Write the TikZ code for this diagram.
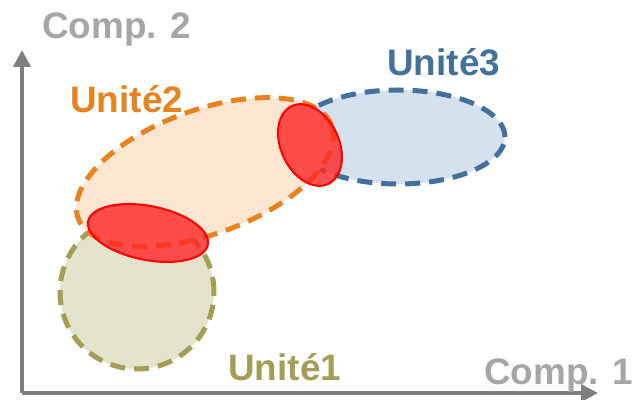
\documentclass[tikz,border=0pt]{standalone}
\usepackage{fontspec}
\setmainfont{Liberation Sans}
\usetikzlibrary{arrows.meta}

\definecolor{axisgray}{HTML}{7F7F7F}
\definecolor{labelgray}{HTML}{A6A6A6}
\definecolor{unitorange}{HTML}{E8821E}
\definecolor{unitblue}{HTML}{41719C}
\definecolor{unitolive}{HTML}{A39E56}
\definecolor{fillorange}{HTML}{FCE6D2}
\definecolor{fillblue}{HTML}{D6E1EE}
\definecolor{fillolive}{HTML}{E3E2CB}

\tikzset{
	axis/.style={draw=axisgray, line width=0.08cm, -{Triangle[length=0.34cm,width=0.34cm]}},
	unitline/.style={line width=0.1cm, dash pattern=on 0.3cm off 0.18cm},
	overlap/.style={draw=red, line width=0.04cm, fill=red!85!white, fill opacity=0.8},
	lbl/.style={inner sep=0pt, anchor=base west, font=\fontsize{21}{24}\selectfont\bfseries}
}

\begin{document}
\begin{tikzpicture}[x=0.02cm, y=0.02cm]
\useasboundingbox (0,0) rectangle (632,399);

% units
\draw[unitline, draw=unitolive, fill=fillolive] (137,107) ellipse [x radius=77, y radius=77];
\draw[unitline, draw=unitblue, fill=fillblue] (398,262) ellipse [x radius=107, y radius=47];
\draw[unitline, draw=unitorange, fill=fillorange, rotate around={20:(205,227)}] (205,227) ellipse [x radius=135, y radius=62];

% overlaps
\draw[overlap, rotate around={-11:(148,166)}] (148,166) ellipse [x radius=61, y radius=27];
\draw[overlap, rotate around={-65:(310,254)}] (310,254) ellipse [x radius=43, y radius=29];

% axes
\coordinate (origin) at (22,6);
\coordinate (ytip) at (22,349);
\coordinate (xtip) at (598,6);
\draw[axis] (origin) -- (ytip);
\draw[axis] (origin) -- (xtip);

\path (42,360) node[lbl, text=labelgray] (comp2) {Comp. 2};
\path (484,15) node[lbl, text=labelgray] (comp1) {Comp. 1};
\path (70,286) node[lbl, text=unitorange] (unit2) {Unité2};
\path (387,323) node[lbl, text=unitblue] (unit3) {Unité3};
\path (228,19) node[lbl, text=unitolive] (unit1) {Unité1};

\end{tikzpicture}
\end{document}
